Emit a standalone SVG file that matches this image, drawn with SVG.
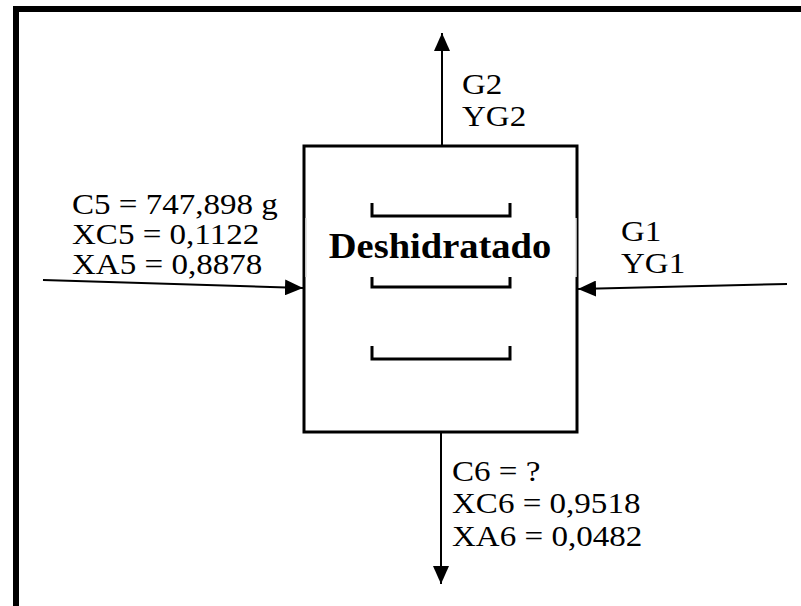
<svg xmlns="http://www.w3.org/2000/svg" width="801" height="606" viewBox="0 0 801 606">
<style>
.lbl{font-family:"Liberation Serif","Times New Roman",serif;font-size:29px;fill:#000}
.title{font-family:"Liberation Serif","Times New Roman",serif;font-size:35px;font-weight:bold;fill:#000}
.edge{stroke:#000;stroke-width:2;fill:none}
.tray{stroke:#000;stroke-width:3;fill:none}
</style>
<defs>
<marker id="ah" viewBox="0 0 18 16" refX="18" refY="8" markerWidth="18" markerHeight="16" markerUnits="userSpaceOnUse" orient="auto">
<path d="M0,0 L18,8 L0,16 Z" fill="#000"/>
</marker>
</defs>
<rect width="801" height="606" fill="#fff"/>
<g id="frame">
<path d="M16,606 V9 H801" stroke="#000" stroke-width="6" fill="none"/>
</g>
<g id="deshidratado">
<rect x="304" y="146" width="273" height="286" fill="#fff" stroke="#000" stroke-width="3"/>
<path class="tray" d="M372,203 V216 H510 V203"/>
<path class="tray" d="M372,275 V287 H510 V275"/>
<path class="tray" d="M372,346 V359 H510 V346"/>
<rect x="305.5" y="218" width="271" height="59" fill="#fff"/>
<path d="M306,218 V277 M576,218 V277" stroke="#c8c8c8" stroke-width="1"/>
<text class="title" text-anchor="middle" transform="translate(440,258) scale(1.1,1)">Deshidratado</text>
</g>
<g id="connectors">
<line class="edge" x1="43" y1="280" x2="303" y2="288" marker-end="url(#ah)"/>
<line class="edge" x1="787" y1="284" x2="578" y2="289" marker-end="url(#ah)"/>
<line class="edge" x1="442" y1="146" x2="442" y2="33" marker-end="url(#ah)"/>
<line class="edge" x1="441" y1="432" x2="441" y2="584" marker-end="url(#ah)"/>
</g>
<g id="label-c5">
<text class="lbl" transform="translate(72,214) scale(1.14,1)">C5 = 747,898 g</text>
<text class="lbl" transform="translate(72,244) scale(1.14,1)">XC5 = 0,1122</text>
<text class="lbl" transform="translate(72,274) scale(1.14,1)">XA5 = 0,8878</text>
</g>
<g id="label-g1">
<text class="lbl" transform="translate(621,241) scale(1.14,1)">G1</text>
<text class="lbl" transform="translate(621,273) scale(1.14,1)">YG1</text>
</g>
<g id="label-g2">
<text class="lbl" transform="translate(462,94) scale(1.14,1)">G2</text>
<text class="lbl" transform="translate(462,126) scale(1.14,1)">YG2</text>
</g>
<g id="label-c6">
<text class="lbl" transform="translate(452,481) scale(1.14,1)">C6 = ?</text>
<text class="lbl" transform="translate(452,513) scale(1.14,1)">XC6 = 0,9518</text>
<text class="lbl" transform="translate(452,546) scale(1.14,1)">XA6 = 0,0482</text>
</g>
</svg>
